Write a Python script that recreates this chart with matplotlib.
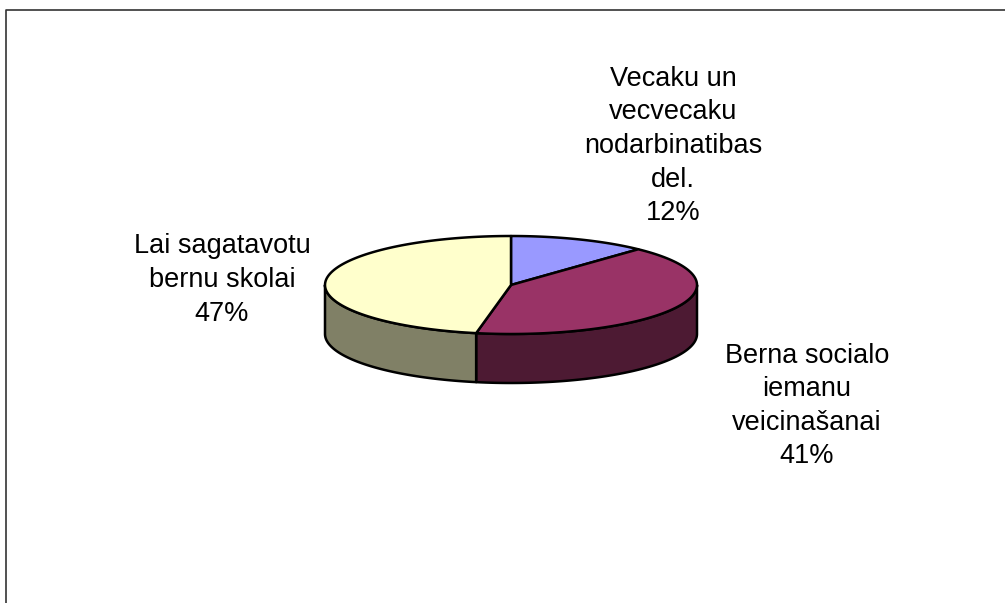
import numpy as np
import matplotlib.pyplot as plt
from matplotlib.patches import Polygon

# data
labels = ["Vecaku un\nvecvecaku\nnodarbinatibas\ndel.",
          "Berna socialo\niemanu\nveicinašanai",
          "Lai sagatavotu\nbernu skolai"]
values = [12, 41, 47]
top_colors = ["#9999FF", "#993366", "#FFFFCC"]
side_colors = ["#4D4D80", "#4D1A33", "#808066"]

# layout (pixels)
cx, cy, rx, ry, depth = 511, 285, 186, 49, 49
label_pos = [(673, 146), (807, 406), (222, 280)]

fig = plt.figure(figsize=(10.05, 6.03), dpi=100)
ax = fig.add_axes([0, 0, 1, 1])
ax.set_xlim(0, 1005)
ax.set_ylim(603, 0)
ax.axis("off")

# chart border
ax.plot([6, 6, 1010], [610, 10, 10], color="#333333", lw=1.2, clip_on=False)


def arc(t0, t1, dy=0, n=100):
    t = np.radians(np.linspace(t0, t1, n))
    return np.column_stack([cx + rx * np.cos(t), cy + dy - ry * np.sin(t)])


fracs = np.array(values) / sum(values)
starts = 90 - 360 * np.concatenate([[0], np.cumsum(fracs)[:-1]])
ends = starts - 360 * fracs

# side walls (front half only)
for s, e, col in zip(starts, ends, side_colors):
    a, b = max(e, -180), min(s, 0)
    if a >= b:
        continue
    top = arc(a, b)
    bot = arc(b, a, dy=depth)
    ax.add_patch(Polygon(np.vstack([top, bot]), closed=True, facecolor=col,
                         edgecolor="black", lw=1.8, joinstyle="round"))

# top faces
for s, e, col in zip(starts, ends, top_colors):
    pts = np.vstack([[cx, cy], arc(s, e)])
    ax.add_patch(Polygon(pts, closed=True, facecolor=col,
                         edgecolor="black", lw=1.8, joinstyle="round"))

# labels
for lab, v, (x, y) in zip(labels, values, label_pos):
    ax.text(x, y, f"{lab}\n{v}%", ha="center", va="center", multialignment="center",
            fontsize=19.5, family="Liberation Sans", linespacing=1.38)

fig.savefig("out.png", dpi=100)
